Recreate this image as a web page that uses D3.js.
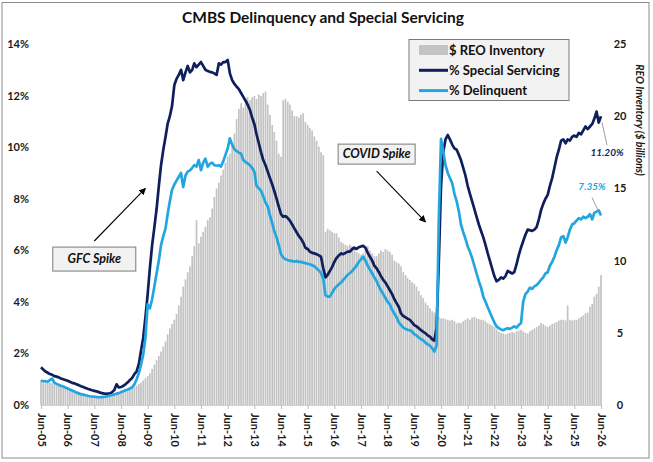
<!DOCTYPE html>
<html>
<head>
<meta charset="utf-8">
<script src="https://cdn.jsdelivr.net/npm/d3@7"></script>
<style>
  html, body { margin: 0; padding: 0; background: #fff; }
  svg { display: block; font-family: Lato, 'Open Sans', sans-serif; }
</style>
</head>
<body>
<svg id="chart" width="653" height="462"></svg>
<script>
const NAVY = '#0f1f5c';
const CYAN = '#23a6e0';
const BAR = '#c3c3c3';

const tickLabels = ['Jun-05', 'Jun-06', 'Jun-07', 'Jun-08', 'Jun-09', 'Jun-10', 'Jun-11',
  'Jun-12', 'Jun-13', 'Jun-14', 'Jun-15', 'Jun-16', 'Jun-17', 'Jun-18', 'Jun-19', 'Jun-20',
  'Jun-21', 'Jun-22', 'Jun-23', 'Jun-24', 'Jun-25', 'Jun-26'];
const pctTicks = [0, 2, 4, 6, 8, 10, 12, 14];
const reoTicks = [0, 5, 10, 15, 20, 25];

// monthly, Jun-05 .. Jun-26, one row per calendar year
const specialServicing = [
  1.46, 1.38, 1.30, 1.25, 1.20, 1.17, 1.12,
  1.10, 1.07, 1.03, 1.00, 0.97, 0.94, 0.90, 0.86, 0.84, 0.80, 0.77, 0.73,
  0.70, 0.66, 0.63, 0.60, 0.57, 0.55, 0.53, 0.50, 0.47, 0.45, 0.43, 0.44,
  0.45, 0.50, 0.58, 0.80, 0.68, 0.70, 0.74, 0.80, 0.88, 0.97, 1.05, 1.20,
  1.30, 1.60, 2.10, 2.60, 3.40, 4.30, 5.30, 6.20, 6.90, 7.60, 8.50, 9.30,
  9.90, 10.4, 10.9, 11.2, 11.6, 12.4, 12.65, 12.8, 13.0, 12.6, 12.9, 13.15,
  12.9, 13.0, 13.25, 13.1, 13.2, 13.3, 13.15, 13.0, 12.95, 12.92, 12.9, 12.86,
  12.8, 13.25, 13.2, 13.3, 13.3, 13.38, 12.86, 12.6, 12.45, 12.35, 12.25, 12.1,
  11.95, 11.8, 11.65, 11.45, 11.15, 10.9, 10.5, 10.15, 9.8, 9.5, 9.3, 9.05,
  8.8, 8.55, 8.3, 8.0, 7.7, 7.4, 7.3, 7.33, 7.25, 7.15, 7.0, 6.85,
  6.7, 6.55, 6.45, 6.3, 6.1, 6.05, 5.95, 5.9, 5.88, 5.85, 5.8, 5.75,
  5.3, 4.95, 5.05, 5.2, 5.35, 5.55, 5.7, 5.8, 5.88, 5.85, 5.9, 5.95,
  5.95, 6.05, 6.1, 6.05, 6.12, 6.15, 6.17, 6.1, 5.9, 5.75, 5.6, 5.4,
  5.3, 5.15, 5.0, 4.85, 4.75, 4.6, 4.45, 4.3, 4.1, 3.95, 3.8, 3.55,
  3.45, 3.4, 3.35, 3.3, 3.2, 3.1, 3.05, 2.98, 2.9, 2.84, 2.78, 2.7,
  2.65, 2.55, 2.5, 3.0, 5.5, 8.5, 9.8, 10.3, 10.47, 10.3, 10.1, 9.95,
  9.9, 9.7, 9.5, 9.2, 8.9, 8.5, 8.2, 7.9, 7.6, 7.3, 7.0, 6.75,
  6.5, 6.2, 5.9, 5.6, 5.3, 5.0, 4.8, 4.85, 4.95, 4.9, 5.0, 5.2,
  5.15, 5.1, 5.15, 5.45, 5.8, 6.1, 6.35, 6.6, 6.8, 6.78, 6.75, 6.8,
  6.9, 7.2, 7.55, 7.8, 8.0, 8.15, 8.5, 8.8, 9.2, 9.6, 9.9, 10.25,
  10.3, 10.15, 10.3, 10.25, 10.4, 10.45, 10.4, 10.55, 10.5, 10.65, 10.8, 10.7,
  10.8, 10.9, 11.1, 11.38, 10.95, 11.2
];

const delinquent = [
  0.94, 0.93, 0.92, 0.90, 0.97, 1.02, 0.86,
  0.82, 0.78, 0.75, 0.72, 0.68, 0.64, 0.60, 0.56, 0.52, 0.48, 0.45, 0.42,
  0.40, 0.38, 0.36, 0.34, 0.33, 0.32, 0.31, 0.30, 0.30, 0.31, 0.32, 0.34,
  0.37, 0.39, 0.41, 0.44, 0.46, 0.50, 0.53, 0.57, 0.60, 0.64, 0.69, 0.80,
  1.00, 1.25, 1.55, 1.95, 2.60, 3.90, 3.75, 4.10, 4.60, 5.10, 5.60, 6.20,
  6.55, 6.85, 7.40, 7.90, 8.35, 8.55, 8.70, 8.85, 9.00, 8.45, 8.90, 9.05,
  9.10, 9.20, 9.30, 9.25, 9.50, 9.11, 9.40, 9.55, 9.24, 9.35, 9.40, 9.30,
  9.28, 9.30, 9.25, 9.45, 9.70, 9.95, 10.34, 10.1, 9.92, 9.85, 9.78, 9.75,
  9.50, 9.42, 9.37, 9.30, 9.20, 9.05, 8.50, 8.40, 8.30, 8.10, 7.85, 7.70,
  7.35, 7.05, 6.75, 6.50, 6.20, 5.85, 5.72, 5.65, 5.62, 5.60, 5.58, 5.56,
  5.58, 5.55, 5.55, 5.52, 5.50, 5.48, 5.46, 5.42, 5.38, 5.30, 5.22, 5.12,
  4.90, 4.25, 4.20, 4.20, 4.35, 4.50, 4.60, 4.68, 4.75, 4.85, 4.95, 5.05,
  5.12, 5.20, 5.30, 5.40, 5.55, 5.65, 5.75, 5.60, 5.40, 5.25, 5.10, 4.95,
  4.80, 4.60, 4.45, 4.30, 4.15, 4.00, 3.90, 3.70, 3.55, 3.40, 3.20, 3.10,
  3.00, 2.95, 2.92, 2.90, 2.85, 2.75, 2.70, 2.62, 2.55, 2.50, 2.42, 2.35,
  2.30, 2.20, 2.07, 2.30, 7.15, 10.32, 9.85, 9.30, 9.00, 8.80, 8.60, 8.20,
  7.90, 7.50, 7.00, 6.70, 6.45, 6.15, 5.95, 5.70, 5.40, 5.10, 4.80, 4.55,
  4.20, 4.00, 3.80, 3.60, 3.40, 3.20, 3.05, 2.98, 2.93, 2.90, 2.95, 2.98,
  2.95, 3.00, 3.05, 3.00, 3.10, 3.17, 4.00, 4.30, 4.40, 4.55, 4.50, 4.60,
  4.65, 4.75, 4.85, 4.95, 5.10, 5.15, 5.40, 5.55, 5.75, 6.00, 6.20, 6.50,
  6.55, 6.30, 6.50, 6.80, 7.00, 7.05, 7.15, 7.25, 7.20, 7.30, 7.25, 7.30,
  7.40, 7.20, 7.45, 7.50, 7.55, 7.35
];

// $ billions
const reoInventory = [
  1.73, 1.70, 1.65, 1.60, 1.55, 1.50, 1.45,
  1.40, 1.35, 1.30, 1.25, 1.20, 1.15, 1.05, 1.00, 0.95, 0.90, 0.85, 0.80,
  0.75, 0.72, 0.70, 0.68, 0.66, 0.65, 0.64, 0.64, 0.65, 0.66, 0.68, 0.70,
  0.72, 0.75, 0.80, 0.85, 0.90, 0.98, 1.02, 1.06, 1.10, 1.15, 1.20, 1.27,
  1.35, 1.45, 1.55, 1.70, 1.85, 2.00, 2.20, 2.50, 2.80, 3.10, 3.40, 3.70,
  4.05, 4.40, 4.90, 5.30, 5.60, 5.90, 6.30, 6.90, 7.50, 8.20, 8.70, 9.20,
  9.60, 10.3, 11.0, 12.8, 11.2, 11.65, 12.0, 12.35, 12.8, 13.0, 13.6, 14.4,
  15.0, 15.4, 15.9, 16.3, 16.8, 17.2, 17.4, 18.0, 18.8, 19.8, 20.5, 20.9,
  20.6, 21.2, 21.35, 21.1, 21.3, 21.4, 21.2, 21.5, 21.4, 21.6, 21.7, 20.8,
  20.1, 19.4, 18.9, 18.3, 17.4, 17.2, 21.1, 21.2, 21.0, 20.8, 20.4, 20.0,
  20.0, 19.9, 20.1, 20.2, 19.6, 19.4, 19.2, 19.0, 18.6, 18.3, 17.9, 17.5,
  17.3, 12.0, 12.2, 12.1, 12.0, 11.9, 11.9, 11.6, 11.3, 11.2, 11.1, 11.0,
  11.1, 11.0, 10.8, 10.6, 10.5, 10.4, 10.5, 10.8, 11.0, 10.7, 10.5, 10.3,
  10.3, 10.5, 10.7, 10.6, 10.8, 10.7, 10.6, 10.4, 10.0, 9.9, 9.8, 9.6,
  9.2, 9.0, 8.8, 8.66, 8.5, 8.4, 8.2, 7.9, 7.6, 7.4, 7.1, 6.9,
  6.7, 6.5, 6.4, 6.2, 6.1, 6.0, 6.0, 5.95, 5.9, 5.85, 5.9, 5.8,
  5.65, 5.7, 5.67, 5.8, 5.9, 6.0, 5.9, 6.05, 6.1, 6.0, 5.95, 5.9,
  5.9, 5.8, 5.67, 5.6, 5.5, 5.4, 5.25, 5.1, 5.0, 4.95, 4.9, 4.96,
  5.0, 5.05, 5.0, 5.1, 5.15, 5.2, 5.1, 5.0, 4.96, 5.1, 5.2, 5.3,
  5.4, 5.5, 5.67, 5.6, 5.5, 5.4, 5.5, 5.6, 5.67, 5.75, 5.85, 5.9,
  5.9, 5.85, 6.9, 5.9, 5.85, 5.9, 5.9, 6.0, 6.1, 6.2, 6.35, 6.4,
  6.8, 7.0, 7.5, 7.7, 8.2, 9.0
];

// callouts, placed in data units
const callouts = [
  { text: 'GFC Spike', at: 'Jun-07', pct: 5.66, w: 83, h: 24, from: ['Jun-07', 6.36], to: ['May-09', 8.4] },
  { text: 'COVID Spike', at: 'Jan-18', pct: 9.73, w: 77, h: 20, from: ['Jan-18', 9.07], to: ['Nov-19', 7.1] }
];

const parse = d3.timeParse('%b-%y');
const fmtMonth = d3.timeFormat('%b-%y');
const start = parse(tickLabels[0]);
const months = d3.timeMonth.range(start, d3.timeMonth.offset(start, specialServicing.length));

const svg = d3.select('#chart');

const x = d3.scaleTime()
  .domain([start, parse(tickLabels[tickLabels.length - 1])])
  .range([41, 601]);
const yPct = d3.scaleLinear().domain([0, 14]).range([405, 44]);
const yReo = d3.scaleLinear().domain([0, 25]).range([405, 44]);

svg.append('rect')
  .attr('x', 2).attr('y', 2.5)
  .attr('width', 647).attr('height', 455.5)
  .attr('fill', '#fff')
  .attr('stroke', '#8a8a8a');

svg.append('text')
  .attr('x', 323).attr('y', 23)
  .attr('text-anchor', 'middle')
  .attr('font-size', 15.5)
  .attr('font-weight', 700)
  .attr('fill', '#111')
  .text('CMBS Delinquency and Special Servicing');

// bars
const barW = (x(months[1]) - x(months[0])) * 0.78;
svg.append('g')
  .selectAll('rect')
  .data(reoInventory)
  .join('rect')
    .attr('x', (_, i) => x(months[i]) - barW / 2)
    .attr('y', d => yReo(d))
    .attr('width', barW)
    .attr('height', d => yReo(0) - yReo(d))
    .attr('fill', BAR);

// x axis
const xAxis = svg.append('g')
  .attr('transform', `translate(0, ${yPct(0)})`)
  .call(d3.axisBottom(x)
    .tickValues(tickLabels.map(parse))
    .tickFormat(fmtMonth)
    .tickSize(4)
    .tickSizeOuter(0));
xAxis.select('.domain').attr('stroke', '#d0d0d0');
xAxis.selectAll('.tick line').attr('stroke', '#bcbcbc');
xAxis.selectAll('.tick text')
  .attr('transform', 'rotate(90)')
  .attr('x', 8).attr('y', 0).attr('dy', '0.35em')
  .attr('text-anchor', 'start')
  .attr('font-size', 11)
  .attr('font-weight', 700)
  .attr('font-family', 'Lato, sans-serif')
  .attr('fill', '#1a1a1a');

// left axis
const yAxisL = svg.append('g')
  .attr('transform', 'translate(32, 0)')
  .call(d3.axisLeft(yPct).tickValues(pctTicks).tickFormat(d => d + '%').tickSize(0).tickPadding(3));
yAxisL.select('.domain').remove();
yAxisL.selectAll('text')
  .attr('font-size', 11).attr('font-weight', 700)
  .attr('font-family', 'Lato, sans-serif').attr('fill', '#1a1a1a');

// right axis
const yAxisR = svg.append('g')
  .attr('transform', 'translate(620, 0)')
  .call(d3.axisRight(yReo).tickValues(reoTicks).tickSize(0).tickPadding(0));
yAxisR.select('.domain').remove();
yAxisR.selectAll('text')
  .attr('text-anchor', 'middle')
  .attr('font-size', 11).attr('font-weight', 700)
  .attr('font-family', 'Lato, sans-serif').attr('fill', '#1a1a1a');

svg.append('text')
  .attr('transform', 'translate(636, 120) rotate(90)')
  .attr('text-anchor', 'middle')
  .attr('font-size', 10.5)
  .attr('font-weight', 700)
  .attr('font-style', 'italic')
  .attr('fill', '#1a1a1a')
  .text('REO Inventory ($ billions)');

// lines
const line = values => d3.line()
  .x((_, i) => x(months[i]))
  .y(d => yPct(d))(values);

svg.append('path')
  .attr('d', line(specialServicing))
  .attr('fill', 'none')
  .attr('stroke', NAVY)
  .attr('stroke-width', 2.7)
  .attr('stroke-linejoin', 'round');

svg.append('path')
  .attr('d', line(delinquent))
  .attr('fill', 'none')
  .attr('stroke', CYAN)
  .attr('stroke-width', 2.7)
  .attr('stroke-linejoin', 'round');

// end labels
const last = months.length - 1;
const fmtPct = v => d3.format('.2f')(v) + '%';
const endX = x(months[last]);
const ssY = yPct(specialServicing[last]);
const dqY = yPct(delinquent[last]);

svg.append('line')
  .attr('x1', endX + 1).attr('y1', ssY + 6)
  .attr('x2', endX + 6).attr('y2', ssY + 29)
  .attr('stroke', '#a0a0a0');
svg.append('text')
  .attr('x', endX + 6).attr('y', ssY + 40)
  .attr('text-anchor', 'middle')
  .attr('font-size', 10).attr('font-weight', 700).attr('font-style', 'italic')
  .attr('fill', NAVY)
  .text(fmtPct(specialServicing[last]));

svg.append('line')
  .attr('x1', endX - 9).attr('y1', dqY - 18)
  .attr('x2', endX - 3).attr('y2', dqY - 5)
  .attr('stroke', '#a0a0a0');
svg.append('text')
  .attr('x', endX - 9).attr('y', dqY - 25)
  .attr('text-anchor', 'middle')
  .attr('font-size', 10).attr('font-weight', 700).attr('font-style', 'italic')
  .attr('fill', CYAN)
  .text(fmtPct(delinquent[last]));

// callouts
svg.append('defs').append('marker')
  .attr('id', 'arrow')
  .attr('viewBox', '0 0 10 10')
  .attr('refX', 9).attr('refY', 5)
  .attr('markerWidth', 7).attr('markerHeight', 7)
  .attr('markerUnits', 'userSpaceOnUse')
  .attr('orient', 'auto')
  .append('path')
    .attr('d', 'M0,0L10,5L0,10z')
    .attr('fill', '#000');

callouts.forEach(c => {
  const cx = x(parse(c.at));
  const cy = yPct(c.pct);
  svg.append('line')
    .attr('x1', x(parse(c.from[0]))).attr('y1', yPct(c.from[1]))
    .attr('x2', x(parse(c.to[0]))).attr('y2', yPct(c.to[1]))
    .attr('stroke', '#000')
    .attr('stroke-width', 1.1)
    .attr('marker-end', 'url(#arrow)');
  svg.append('rect')
    .attr('x', cx - c.w / 2).attr('y', cy - c.h / 2)
    .attr('width', c.w).attr('height', c.h)
    .attr('fill', '#f2f2f2')
    .attr('stroke', '#7a7a7a');
  svg.append('text')
    .attr('x', cx).attr('y', cy)
    .attr('dy', '0.35em')
    .attr('text-anchor', 'middle')
    .attr('font-size', 12.5).attr('font-weight', 700).attr('font-style', 'italic')
    .attr('fill', '#111')
    .text(c.text);
});

// legend
const legend = svg.append('g').attr('transform', 'translate(409, 39.5)');
legend.append('rect')
  .attr('width', 160).attr('height', 61)
  .attr('fill', '#f2f2f2')
  .attr('stroke', '#7a7a7a');
const items = [
  { label: '$ REO Inventory', kind: 'bar', color: BAR },
  { label: '% Special Servicing', kind: 'line', color: NAVY },
  { label: '% Delinquent', kind: 'line', color: CYAN }
];
items.forEach((it, i) => {
  const cy = 10.5 + i * 20.3;
  if (it.kind === 'bar') {
    legend.append('rect')
      .attr('x', 10).attr('y', cy - 5)
      .attr('width', 29).attr('height', 10)
      .attr('fill', it.color);
  } else {
    legend.append('line')
      .attr('x1', 10).attr('x2', 39)
      .attr('y1', cy).attr('y2', cy)
      .attr('stroke', it.color)
      .attr('stroke-width', 3);
  }
  legend.append('text')
    .attr('x', 40).attr('y', cy)
    .attr('dy', '0.35em')
    .attr('font-size', 13).attr('font-weight', 700)
    .attr('fill', '#111')
    .text(it.label);
});
</script>
</body>
</html>
